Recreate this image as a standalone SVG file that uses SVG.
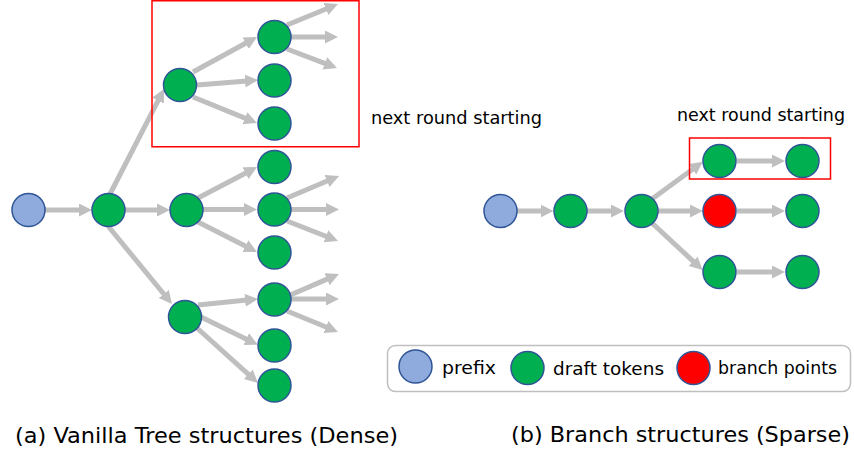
<svg xmlns="http://www.w3.org/2000/svg" width="854" height="452" viewBox="0 0 854 452">
<style>
.arr{stroke:#bfbfbf;stroke-width:5;fill:none;marker-end:url(#ah)}
.g{fill:#00b050;stroke:#2f5597;stroke-width:1.5}
.p{fill:#8faadc;stroke:#2f5597;stroke-width:1.5}
.r{fill:#ff0000;stroke:#2f5597;stroke-width:1.5}
.box{fill:none;stroke:#ff0000;stroke-width:1.5}
text{font-family:"DejaVu Sans","Open Sans",sans-serif;fill:#000}
.lbl{font-size:17px}
.cap{font-size:22px}
</style>
<defs>
<marker id="ah" markerUnits="userSpaceOnUse" markerWidth="14" markerHeight="14" refX="2" refY="6.5" orient="auto">
<path d="M0,0 L13,6.5 L0,13 z" fill="#bfbfbf"/>
</marker>
</defs>
<rect width="854" height="452" fill="#fff"/>
<g id="connectors">
<line class="arr" x1="44" y1="210" x2="81" y2="210"/>
<line class="arr" x1="124" y1="210" x2="159" y2="210"/>
<line class="arr" x1="110" y1="194" x2="159" y2="98.8"/>
<line class="arr" x1="108" y1="226" x2="165" y2="295.5"/>
<line class="arr" x1="193" y1="72" x2="247.4" y2="42.3"/>
<line class="arr" x1="197" y1="85" x2="247" y2="80.9"/>
<line class="arr" x1="193" y1="97" x2="246.8" y2="118.9"/>
<line class="arr" x1="198" y1="198" x2="247.3" y2="172.2"/>
<line class="arr" x1="203" y1="209.5" x2="246" y2="209.5"/>
<line class="arr" x1="198" y1="222" x2="247.2" y2="247"/>
<line class="arr" x1="198" y1="305" x2="247" y2="300.1"/>
<line class="arr" x1="199" y1="316" x2="248" y2="340"/>
<line class="arr" x1="197" y1="328" x2="249.8" y2="375.6"/>
<line class="arr" x1="287" y1="25" x2="327.8" y2="8.2"/>
<line class="arr" x1="291" y1="37" x2="327" y2="37"/>
<line class="arr" x1="287" y1="49" x2="326.7" y2="64.1"/>
<line class="arr" x1="287" y1="198" x2="328.9" y2="180.3"/>
<line class="arr" x1="291" y1="209.5" x2="328" y2="209.5"/>
<line class="arr" x1="287" y1="221" x2="327.8" y2="237"/>
<line class="arr" x1="288" y1="296" x2="328.9" y2="278.4"/>
<line class="arr" x1="291" y1="299" x2="328" y2="299"/>
<line class="arr" x1="287" y1="311" x2="327.8" y2="327.8"/>
<line class="arr" x1="517" y1="211" x2="542.5" y2="211"/>
<line class="arr" x1="587" y1="211" x2="613" y2="211"/>
<line class="arr" x1="652" y1="199" x2="694" y2="168.2"/>
<line class="arr" x1="658" y1="211" x2="692" y2="211"/>
<line class="arr" x1="652" y1="223" x2="694.6" y2="262.6"/>
<line class="arr" x1="737" y1="161" x2="774" y2="161"/>
<line class="arr" x1="737" y1="211" x2="774" y2="211"/>
<line class="arr" x1="737" y1="272" x2="774" y2="272"/>
</g>
<g id="a-prefix"><circle class="p" cx="28.5" cy="210" r="16.5"/></g>
<g id="a-n1"><circle class="g" cx="108.5" cy="210" r="16.5"/></g>
<g id="a-n2"><circle class="g" cx="186.5" cy="210" r="16.5"/></g>
<g id="a-n3"><circle class="g" cx="180" cy="85" r="16.5"/></g>
<g id="a-n4"><circle class="g" cx="185" cy="317" r="16.5"/></g>
<g id="a-l1"><circle class="g" cx="274.5" cy="37" r="16.5"/></g>
<g id="a-l2"><circle class="g" cx="274.5" cy="80.5" r="16.5"/></g>
<g id="a-l3"><circle class="g" cx="274.5" cy="123.5" r="16.5"/></g>
<g id="a-l4"><circle class="g" cx="274.5" cy="167" r="16.5"/></g>
<g id="a-l5"><circle class="g" cx="274.5" cy="209.5" r="16.5"/></g>
<g id="a-l6"><circle class="g" cx="274.5" cy="252.5" r="16.5"/></g>
<g id="a-l7"><circle class="g" cx="274.5" cy="299.5" r="16.5"/></g>
<g id="a-l8"><circle class="g" cx="274.5" cy="345.5" r="16.5"/></g>
<g id="a-l9"><circle class="g" cx="274.5" cy="385.5" r="16.5"/></g>
<g id="a-nextround">
<rect class="box" x="152" y="0.75" width="207" height="146"/>
</g>
<text class="lbl" x="371" y="124" textLength="171" lengthAdjust="spacingAndGlyphs">next round starting</text>
<g id="b-prefix"><circle class="p" cx="500.5" cy="211" r="16.5"/></g>
<g id="b-n1"><circle class="g" cx="570.5" cy="211" r="16.5"/></g>
<g id="b-n2"><circle class="g" cx="641.5" cy="211" r="16.5"/></g>
<g id="b-a1"><circle class="g" cx="719.5" cy="161" r="16.5"/></g>
<g id="b-a2"><circle class="r" cx="719.5" cy="211" r="16.5"/></g>
<g id="b-a3"><circle class="g" cx="719.5" cy="272" r="16.5"/></g>
<g id="b-b1"><circle class="g" cx="802.5" cy="161" r="16.5"/></g>
<g id="b-b2"><circle class="g" cx="802.5" cy="211" r="16.5"/></g>
<g id="b-b3"><circle class="g" cx="802.5" cy="272" r="16.5"/></g>
<g id="b-nextround">
<rect class="box" x="689.5" y="138" width="141" height="41"/>
</g>
<text class="lbl" x="677" y="121" textLength="168" lengthAdjust="spacingAndGlyphs">next round starting</text>
<g id="legend">
<rect x="387.5" y="345.5" width="463" height="46" rx="8" fill="#fff" stroke="#bfbfbf" stroke-width="1.5"/>
<circle class="p" cx="415.5" cy="366.5" r="16.5"/>
<text class="lbl" x="442" y="374" textLength="54" lengthAdjust="spacingAndGlyphs">prefix</text>
<circle class="g" cx="527.5" cy="368" r="16.5"/>
<text class="lbl" x="553" y="375" textLength="111" lengthAdjust="spacingAndGlyphs">draft tokens</text>
<circle class="r" cx="693.5" cy="368" r="16.5"/>
<text class="lbl" x="718" y="374" textLength="119" lengthAdjust="spacingAndGlyphs">branch points</text>
</g>
<text class="cap" x="15" y="443" textLength="383" lengthAdjust="spacingAndGlyphs">(a) Vanilla Tree structures (Dense)</text>
<text class="cap" x="511" y="442" textLength="339" lengthAdjust="spacingAndGlyphs">(b) Branch structures (Sparse)</text>
</svg>
